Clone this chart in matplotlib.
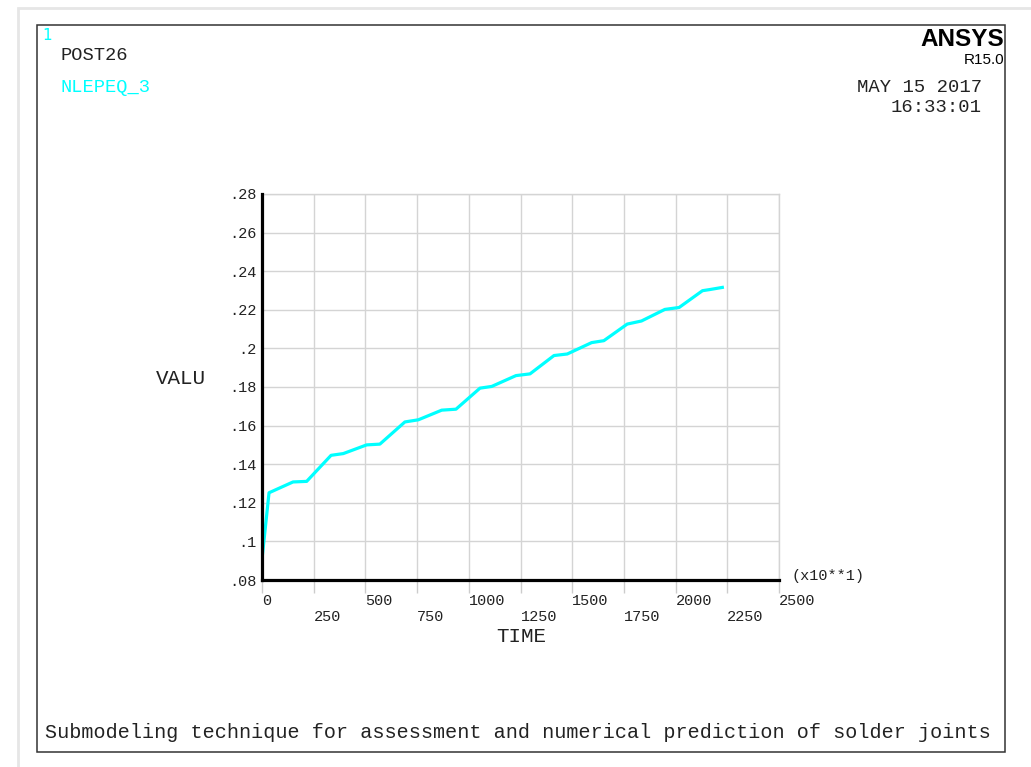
import matplotlib.pyplot as plt
from matplotlib.patches import Rectangle

# time (x10**1) and NLEPEQ_3 values
time = [0, 34, 150, 216, 334, 393, 506, 570, 691, 756, 869, 938,
        1054, 1111, 1228, 1296, 1412, 1476, 1594, 1653, 1766, 1835,
        1948, 2017, 2130, 2166, 2226]
valu = [0.0908, 0.1252, 0.1308, 0.1311, 0.1446, 0.1455, 0.1500, 0.1504,
        0.1619, 0.1630, 0.1680, 0.1685, 0.1794, 0.1803, 0.1859, 0.1868,
        0.1963, 0.1971, 0.2030, 0.2040, 0.2126, 0.2142, 0.2202, 0.2212,
        0.2299, 0.2305, 0.2316]
xticks = [0, 250, 500, 750, 1000, 1250, 1500, 1750, 2000, 2250, 2500]
yticks = [0.08, 0.10, 0.12, 0.14, 0.16, 0.18, 0.20, 0.22, 0.24, 0.26, 0.28]
ylabels = ['.08', '.1', '.12', '.14', '.16', '.18', '.2', '.22', '.24', '.26', '.28']

W, H = 1031, 767
mono = 'Liberation Mono'
cyan = '#00ffff'
ink = '#222222'

fig = plt.figure(figsize=(W / 100, H / 100), dpi=100)

def px(x, y):
    return x / W, 1 - y / H

# page borders
fig.patches.append(Rectangle(px(18, 775), 1100 / W, 767 / H, transform=fig.transFigure,
                             fill=False, edgecolor='#e6e6e6', lw=2))
fig.patches.append(Rectangle(px(37, 752), (1005 - 37) / W, (752 - 25) / H,
                             transform=fig.transFigure, fill=False,
                             edgecolor='#333333', lw=1.1))

ax = fig.add_axes([262 / W, 1 - 580 / H, (779 - 262) / W, (580 - 194) / H])
ax.plot(time, valu, color=cyan, lw=2.3, solid_joinstyle='round')
ax.set_xlim(0, 2500)
ax.set_ylim(0.08, 0.28)

ax.set_xticks(xticks)
ax.set_xticklabels([str(t) if i % 2 == 0 else '\n' + str(t) for i, t in enumerate(xticks)],
                   fontfamily=mono, fontsize=11, color=ink, linespacing=1.2, ha='left')
ax.set_yticks(yticks)
ax.set_yticklabels(ylabels, fontfamily=mono, fontsize=11, color=ink)
ax.tick_params(axis='x', length=9, width=1, color='#cccccc', pad=1)
ax.tick_params(axis='y', length=0, pad=4)
ax.grid(True, color='#d4d4d4', lw=1)
ax.set_axisbelow(True)
for s in ['top', 'right']:
    ax.spines[s].set_color('#d4d4d4')
    ax.spines[s].set_linewidth(1)
for s in ['left', 'bottom']:
    ax.spines[s].set_color('black')
    ax.spines[s].set_linewidth(2.3)
    ax.spines[s].set_zorder(5)

# labels and header texts
fig.text(*px(156, 378), 'VALU', fontfamily=mono, fontsize=15, color=ink, va='center')
fig.text(*px(521, 637), 'TIME', fontfamily=mono, fontsize=15, color=ink,
         va='center', ha='center')
fig.text(*px(792, 576), '(x10**1)', fontfamily=mono, fontsize=11, color=ink, va='center')

fig.text(*px(42, 35), '1', fontfamily='DejaVu Sans', fontsize=11, color=cyan, va='center')
fig.text(*px(60, 56), 'POST26', fontfamily=mono, fontsize=13.5, color=ink, va='center')
fig.text(*px(60, 87), 'NLEPEQ_3', fontfamily=mono, fontsize=13.5, color=cyan, va='center')

fig.text(*px(1004, 40), 'ANSYS', fontfamily='Liberation Sans', fontweight='bold',
         fontsize=17.5, color='black', ha='right', va='center')
fig.text(*px(1004, 60), 'R15.0', fontfamily='Liberation Sans',
         fontsize=11, color='black', ha='right', va='center')
fig.text(*px(982, 88), 'MAY 15 2017', fontfamily=mono, fontsize=13.6, color=ink,
         ha='right', va='center')
fig.text(*px(982, 108), '16:33:01', fontfamily=mono, fontsize=13.6, color=ink,
         ha='right', va='center')

fig.text(*px(45, 733), 'Submodeling technique for assessment and numerical prediction of solder joints',
         fontfamily=mono, fontsize=14.5, color=ink, va='center')

fig.savefig('out.png', dpi=100)
